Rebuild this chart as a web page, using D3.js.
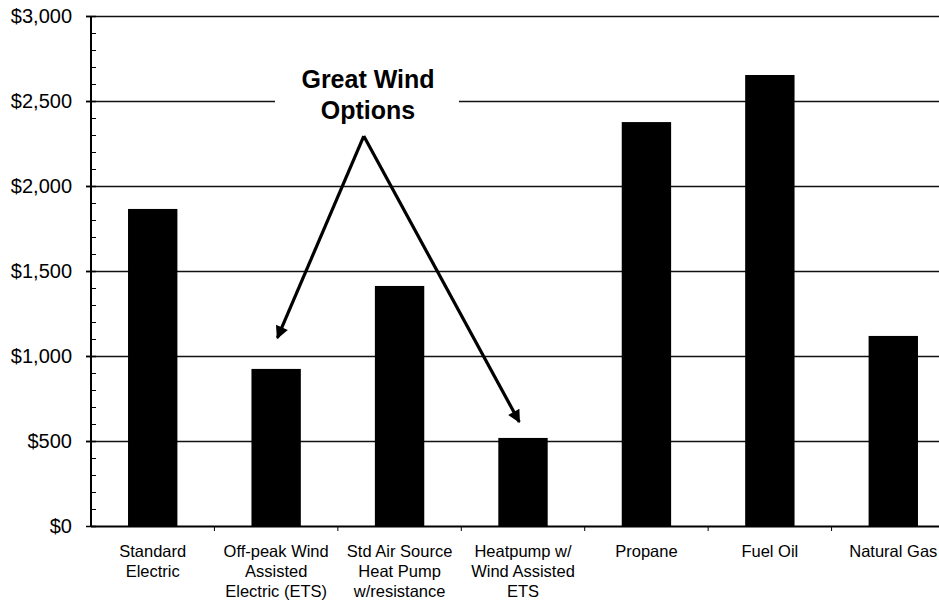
<!DOCTYPE html>
<html>
<head>
<meta charset="utf-8">
<script src="https://cdn.jsdelivr.net/npm/d3@7"></script>
<style>
    body { margin: 0; background: #fff; }
    svg { display: block; font-family: Arial, "Liberation Sans", sans-serif; }
</style>
</head>
<body>
<div id="chart"></div>
<script>
//DATA
let categories = [
    ['Standard', 'Electric'],
    ['Off-peak Wind', 'Assisted', 'Electric (ETS)'],
    ['Std Air Source', 'Heat Pump', 'w/resistance'],
    ['Heatpump w/', 'Wind Assisted', 'ETS'],
    ['Propane'],
    ['Fuel Oil'],
    ['Natural Gas']
];
let costs = [1865, 924, 1412, 518, 2376, 2653, 1118];
let yTicks = [0, 500, 1000, 1500, 2000, 2500, 3000];
let minorTicks = d3.range(0, 3001, 100);
let noteLines = ['Great Wind', 'Options'];
//arrow: apex, then the two targets (category position, value)
let arrowApex = [1.71, 2294];
let arrowTargets = [[1.01, 1106], [2.97, 612]];

//LAYOUT
let width = 939, height = 610;
let margin = {top: 16, left: 91, bottom: 84};
let plotRight = 955; // plot runs past the page edge

let svg = d3.select('#chart').append('svg')
    .attr('width', width)
    .attr('height', height);

let x = d3.scaleBand()
    .domain(d3.range(categories.length))
    .range([margin.left, plotRight])
    .paddingInner(0.6)
    .paddingOuter(0.3);

let y = d3.scaleLinear()
    .domain([0, 3000])
    .range([height - margin.bottom, margin.top]);

// fractional category position -> x pixel at bar center
let cx = function(i) { return x(Math.floor(i)) + x.bandwidth() / 2 + (i % 1) * x.step(); };

//Gridlines
svg.append('g')
    .selectAll('line')
    .data(yTicks.filter(function(d) { return d > 0; }))
    .enter().append('line')
    .attr('x1', margin.left - 5)
    .attr('x2', plotRight)
    .attr('y1', function(d) { return Math.round(y(d)) + 0.5; })
    .attr('y2', function(d) { return Math.round(y(d)) + 0.5; })
    .attr('stroke', '#111')
    .attr('stroke-width', 1.3);

//Bars
svg.append('g')
    .selectAll('rect')
    .data(costs)
    .enter().append('rect')
    .attr('x', function(d, i) { return x(i); })
    .attr('width', x.bandwidth())
    .attr('y', function(d) { return y(d); })
    .attr('height', function(d) { return y(0) - y(d); })
    .attr('fill', '#000');

//Y axis
let yAxis = svg.append('g')
    .attr('transform', 'translate(' + margin.left + ',0)');
yAxis.append('line')
    .attr('x1', 0).attr('x2', 0)
    .attr('y1', y(3000)).attr('y2', y(0))
    .attr('stroke', '#000').attr('stroke-width', 2);
yAxis.selectAll('.minor')
    .data(minorTicks.filter(function(d) { return d % 500 != 0; }))
    .enter().append('line')
    .attr('class', 'minor')
    .attr('x1', 0).attr('x2', 5)
    .attr('y1', function(d) { return Math.round(y(d)) + 0.5; })
    .attr('y2', function(d) { return Math.round(y(d)) + 0.5; })
    .attr('stroke', '#000');
yAxis.selectAll('.major')
    .data(yTicks)
    .enter().append('line')
    .attr('class', 'major')
    .attr('x1', -5).attr('x2', 5)
    .attr('y1', function(d) { return Math.round(y(d)) + 0.5; })
    .attr('y2', function(d) { return Math.round(y(d)) + 0.5; })
    .attr('stroke', '#000').attr('stroke-width', 1.5);
yAxis.selectAll('text')
    .data(yTicks)
    .enter().append('text')
    .attr('x', -19)
    .attr('y', function(d) { return y(d); })
    .attr('dy', '0.35em')
    .attr('text-anchor', 'end')
    .attr('font-size', 20)
    .text(function(d) { return '$' + d3.format(',')(d); });

//X axis
let xAxis = svg.append('g');
xAxis.append('line')
    .attr('x1', margin.left).attr('x2', plotRight)
    .attr('y1', y(0) + 0.5).attr('y2', y(0) + 0.5)
    .attr('stroke', '#000').attr('stroke-width', 2);
xAxis.selectAll('.tick')
    .data(d3.range(1, categories.length))
    .enter().append('line')
    .attr('class', 'tick')
    .attr('x1', function(d) { return x(d) - x.step() * x.paddingInner() / 2; })
    .attr('x2', function(d) { return x(d) - x.step() * x.paddingInner() / 2; })
    .attr('y1', y(0)).attr('y2', y(0) + 5)
    .attr('stroke', '#000');
xAxis.selectAll('.label')
    .data(categories)
    .enter().append('text')
    .attr('class', 'label')
    .attr('text-anchor', 'middle')
    .attr('font-size', 16.5)
    .attr('transform', function(d, i) {
        return 'translate(' + (x(i) + x.bandwidth() / 2) + ',' + (y(0) + 31) + ')';
    })
    .each(function(d) {
        d3.select(this).selectAll('tspan')
            .data(d)
            .enter().append('tspan')
            .attr('x', 0)
            .attr('dy', function(t, j) { return j == 0 ? 0 : 20; })
            .text(function(t) { return t; });
    });

//Annotation
svg.append('rect')
    .attr('x', 275).attr('y', 60)
    .attr('width', 184).attr('height', 68)
    .attr('fill', '#fff');
svg.append('text')
    .attr('text-anchor', 'middle')
    .attr('font-size', 25)
    .attr('font-weight', 'bold')
    .attr('transform', 'translate(368,88)')
    .selectAll('tspan')
    .data(noteLines)
    .enter().append('tspan')
    .attr('x', 0)
    .attr('dy', function(t, j) { return j == 0 ? 0 : 31; })
    .text(function(t) { return t; });

svg.append('defs').append('marker')
    .attr('id', 'head')
    .attr('viewBox', '0 0 10 10')
    .attr('refX', 9).attr('refY', 5)
    .attr('markerWidth', 4.5).attr('markerHeight', 4)
    .attr('orient', 'auto')
    .append('path')
    .attr('d', 'M0,0 L10,5 L0,10 z')
    .attr('fill', '#000');

svg.append('g')
    .selectAll('path')
    .data(arrowTargets)
    .enter().append('path')
    .attr('d', function(t) {
        return 'M' + cx(arrowApex[0]) + ',' + y(arrowApex[1]) +
            'L' + cx(t[0]) + ',' + y(t[1]);
    })
    .attr('stroke', '#000')
    .attr('stroke-width', 3.2)
    .attr('stroke-linejoin', 'miter')
    .attr('fill', 'none')
    .attr('marker-end', 'url(#head)');
</script>
</body>
</html>
